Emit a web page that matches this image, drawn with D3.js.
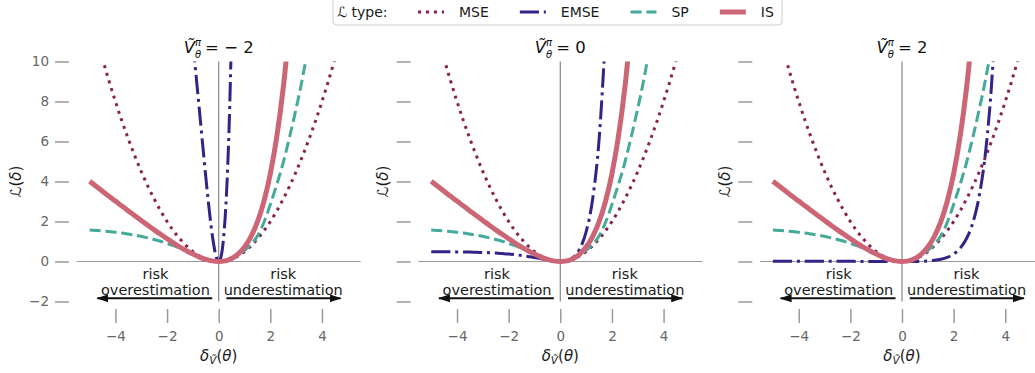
<!DOCTYPE html>
<html>
<head>
<meta charset="utf-8">
<script src="https://cdn.jsdelivr.net/npm/d3@7"></script>
<style>
  body { margin: 0; background: #fff; }
  svg { display: block; font-family: "DejaVu Sans", sans-serif; }
</style>
</head>
<body>
<div id="chart"></div>
<script>
// values
const delta = [-5, -4.75, -4.5, -4.25, -4, -3.75, -3.5, -3.25, -3, -2.75, -2.5, -2.25, -2, -1.75, -1.5, -1.25, -1, -0.75, -0.5, -0.25,
  0, 0.25, 0.5, 0.75, 1, 1.25, 1.5, 1.75, 2, 2.25, 2.5, 2.75, 3, 3.25, 3.5, 3.75, 4, 4.25, 4.5, 4.75, 5];

const mseLoss = [12.5, 11.28, 10.13, 9.03, 8, 7.03, 6.13, 5.28, 4.5, 3.78, 3.13, 2.53, 2, 1.53, 1.13, 0.78, 0.5, 0.28, 0.13, 0.03,
  0, 0.03, 0.13, 0.28, 0.5, 0.78, 1.13, 1.53, 2, 2.53, 3.13, 3.78, 4.5, 5.28, 6.13, 7.03, 8, 9.03, 10.13, 11.28, 12.5];

const spLoss = [1.57, 1.55, 1.53, 1.5, 1.46, 1.42, 1.37, 1.32, 1.26, 1.18, 1.1, 1.01, 0.9, 0.79, 0.66, 0.52, 0.37, 0.21, 0.1, 0.026,
  0, 0.035, 0.14, 0.31, 0.56, 0.86, 1.27, 1.95, 2.85, 3.85, 4.95, 6.25, 7.65, 9.2, 11.0, null, null, null, null, null, null];

const isLoss = [4.01, 3.76, 3.51, 3.26, 3.02, 2.77, 2.53, 2.29, 2.05, 1.81, 1.58, 1.36, 1.14, 0.92, 0.72, 0.54, 0.37, 0.22, 0.11, 0.03,
  0, 0.03, 0.15, 0.37, 0.72, 1.24, 1.98, 3.0, 4.39, 6.24, 8.68, 11.89, null, null, null, null, null, null, null, null, null];

// EMSE depends on the panel value, the steep one needs its own finer grid
const emseDeltaNeg = [-1.0, -0.9, -0.8, -0.7, -0.6, -0.5, -0.4, -0.3, -0.2, -0.1, 0, 0.1, 0.2, 0.3, 0.4, 0.5];
const emseLossNeg = [10.91, 9.61, 8.28, 6.92, 5.56, 4.23, 2.97, 1.83, 0.9, 0.25, 0, 0.3, 1.34, 3.34, 6.6, 11.49];

const emseLossZero = [0.49, 0.49, 0.49, 0.49, 0.48, 0.48, 0.47, 0.46, 0.45, 0.44, 0.42, 0.4, 0.37, 0.34, 0.3, 0.25, 0.2, 0.14, 0.08, 0.02,
  0, 0.04, 0.21, 0.62, 1.48, 3.1, 6.06, 11.3, null, null, null, null, null, null, null, null, null, null, null, null, null];

const emseLossPos = [0.009, 0.009, 0.009, 0.009, 0.009, 0.009, 0.009, 0.008, 0.008, 0.008, 0.008, 0.007, 0.007, 0.006, 0.006, 0.005, 0.004, 0.003, 0.001, 0,
  0, 0.001, 0.004, 0.011, 0.027, 0.057, 0.111, 0.207, 0.374, 0.66, 1.15, 1.96, 3.34, 5.63, 9.45, 15.79, null, null, null, null, null];

const panelValues = ['−2', '0', '2'];
const seriesNames = ['MSE', 'EMSE', 'SP', 'IS'];
const xTicks = [-4, -2, 0, 2, 4];
const yTicks = [-2, 0, 2, 4, 6, 8, 10];

const panelSeries = [
  {MSE: [delta, mseLoss], EMSE: [emseDeltaNeg, emseLossNeg], SP: [delta, spLoss], IS: [delta, isLoss]},
  {MSE: [delta, mseLoss], EMSE: [delta, emseLossZero], SP: [delta, spLoss], IS: [delta, isLoss]},
  {MSE: [delta, mseLoss], EMSE: [delta, emseLossPos], SP: [delta, spLoss], IS: [delta, isLoss]}
];

const styles = {
  MSE: {color: '#882255', width: 3, dash: '3,4.95'},
  EMSE: {color: '#332288', width: 3, dash: '19.2,4.8,3,4.8'},
  SP: {color: '#44AA99', width: 3, dash: '11.1,4.8'},
  IS: {color: '#CC6677', width: 5, dash: null}
};

const width = 1035;
const height = 373;

const svg = d3.select('#chart').append('svg')
  .attr('width', width)
  .attr('height', height);

svg.append('rect')
  .attr('width', width)
  .attr('height', height)
  .attr('fill', '#fff');

const defs = svg.append('defs');
defs.append('marker')
  .attr('id', 'arrowHead')
  .attr('viewBox', '0 0 12 8')
  .attr('refX', 11)
  .attr('refY', 4)
  .attr('markerWidth', 12)
  .attr('markerHeight', 8)
  .attr('markerUnits', 'userSpaceOnUse')
  .attr('orient', 'auto')
  .append('path')
  .attr('d', 'M0,0 L12,4 L0,8 Z')
  .attr('fill', '#111');

const plotWidth = 284;
const plotHeight = 240;
const plotTop = 61.5;
const plotLefts = [76.7, 418.3, 760];

const xScale = d3.scaleLinear().domain([-5.5, 5.5]).range([0, plotWidth]);
const yScale = d3.scaleLinear().domain([-2, 10]).range([plotHeight, 0]);

panelValues.forEach((v, i) => {
  const plotGroup = svg.append('g')
    .attr('transform', `translate(${plotLefts[i]},${plotTop})`);

  defs.append('clipPath')
    .attr('id', `clip${i}`)
    .append('rect')
    .attr('width', plotWidth)
    .attr('height', plotHeight);

  // y axis, pushed out to the left, no spine
  const yAxis = d3.axisLeft(yScale)
    .tickValues(yTicks)
    .tickSize(14)
    .tickPadding(6)
    .tickFormat(i === 0 ? d3.format('d') : '');
  const yAxisGroup = plotGroup.append('g')
    .attr('transform', 'translate(-7.7,0)')
    .call(yAxis);

  const xAxis = d3.axisBottom(xScale)
    .tickValues(xTicks)
    .tickSize(14)
    .tickPadding(8)
    .tickFormat(d3.format('d'));
  const xAxisGroup = plotGroup.append('g')
    .attr('transform', `translate(0,${plotHeight + 7.5})`)
    .call(xAxis);

  [xAxisGroup, yAxisGroup].forEach(a => {
    a.select('.domain').remove();
    a.selectAll('line').attr('stroke', '#9a9a9a').attr('stroke-width', 1.5);
    a.selectAll('text')
      .attr('fill', '#666')
      .attr('font-size', 13.5)
      .attr('font-family', '"DejaVu Sans", sans-serif');
  });

  // zero lines
  plotGroup.append('line')
    .attr('x1', 0).attr('x2', plotWidth)
    .attr('y1', yScale(0)).attr('y2', yScale(0))
    .attr('stroke', '#999').attr('stroke-width', 1.2);
  plotGroup.append('line')
    .attr('x1', xScale(0)).attr('x2', xScale(0))
    .attr('y1', yScale(10)).attr('y2', yScale(-2))
    .attr('stroke', '#888').attr('stroke-width', 1.2);

  const curves = plotGroup.append('g')
    .attr('clip-path', `url(#clip${i})`);

  seriesNames.forEach(name => {
    const [xs, ys] = panelSeries[i][name];
    const points = xs.map((d, k) => [d, ys[k]]);
    const line = d3.line()
      .defined(d => d[1] !== null)
      .x(d => xScale(d[0]))
      .y(d => yScale(d[1]))
      .curve(d3.curveMonotoneX);
    const st = styles[name];
    curves.append('path')
      .attr('d', line(points))
      .attr('fill', 'none')
      .attr('stroke', st.color)
      .attr('stroke-width', st.width)
      .attr('stroke-dasharray', st.dash);
  });

  // risk annotations
  const notes = [
    {cx: -2.45, word: 'overestimation', from: -0.25, to: -4.7},
    {cx: 2.5, word: 'underestimation', from: 0.3, to: 4.72}
  ];
  notes.forEach(n => {
    plotGroup.append('text')
      .attr('x', xScale(n.cx)).attr('y', yScale(-0.875))
      .attr('text-anchor', 'middle')
      .attr('font-size', 14.5).attr('fill', '#1a1a1a')
      .text('risk');
    plotGroup.append('text')
      .attr('x', xScale(n.cx)).attr('y', yScale(-1.675))
      .attr('text-anchor', 'middle')
      .attr('font-size', 14.5).attr('fill', '#1a1a1a')
      .text(n.word);
    plotGroup.append('line')
      .attr('x1', xScale(n.from)).attr('x2', xScale(n.to))
      .attr('y1', yScale(-1.84)).attr('y2', yScale(-1.84))
      .attr('stroke', '#111').attr('stroke-width', 2)
      .attr('marker-end', 'url(#arrowHead)');
  });

  // title  V~^pi_theta = value, scripts as their own texts stacked on each other
  const titleY = 52.7 - plotTop;
  const titleG = plotGroup.append('g');
  const base = titleG.append('text')
    .attr('y', titleY)
    .attr('font-size', 16.5).attr('font-style', 'italic').attr('fill', '#111')
    .text('Ṽ');
  const baseW = base.node().getComputedTextLength();
  const sup = titleG.append('text')
    .attr('x', baseW).attr('y', titleY - 7)
    .attr('font-size', 10).attr('font-style', 'italic').attr('fill', '#111')
    .text('π');
  const sub = titleG.append('text')
    .attr('x', baseW).attr('y', titleY + 4.8)
    .attr('font-size', 10).attr('font-style', 'italic').attr('fill', '#111')
    .text('θ');
  const scriptW = Math.max(sup.node().getComputedTextLength(), sub.node().getComputedTextLength());
  const rest = titleG.append('text')
    .attr('x', baseW + scriptW + 4).attr('y', titleY)
    .attr('font-size', 16.5).attr('fill', '#111')
    .text(v === '−2' ? '=\u00a0\u2212\u00a02' : '=\u00a0' + v);
  const titleW = baseW + scriptW + 4 + rest.node().getComputedTextLength();
  titleG.attr('transform', `translate(${xScale(0) - titleW / 2},0)`);

  // x label
  const xl = plotGroup.append('text')
    .attr('x', xScale(0)).attr('y', 361 - plotTop)
    .attr('text-anchor', 'middle')
    .attr('font-size', 15).attr('fill', '#1a1a1a');
  xl.append('tspan').attr('font-style', 'italic').text('δ');
  xl.append('tspan').attr('font-style', 'italic').attr('font-size', 10.5).attr('dy', 3).text('Ṽ');
  xl.append('tspan').attr('dy', -3).text('(');
  xl.append('tspan').attr('font-style', 'italic').text('θ');
  xl.append('tspan').text(')');

  // y label
  const yl = plotGroup.append('text')
    .attr('transform', `translate(${i === 0 ? -56 : -30},${plotHeight / 2}) rotate(-90)`)
    .attr('text-anchor', 'middle')
    .attr('font-size', 15).attr('fill', '#1a1a1a');
  yl.append('tspan').text('ℒ(');
  yl.append('tspan').attr('font-style', 'italic').text('δ');
  yl.append('tspan').text(')');
});

// legend
const legend = svg.append('g');
legend.append('rect')
  .attr('x', 333).attr('y', -4)
  .attr('width', 449).attr('height', 29)
  .attr('rx', 4)
  .attr('fill', '#fff')
  .attr('stroke', '#cfcfcf');

const legendY = 17;
let lx = 337;
const head = legend.append('text')
  .attr('x', lx).attr('y', legendY)
  .attr('font-size', 14).attr('fill', '#1a1a1a');
head.append('tspan').attr('font-style', 'italic').text('ℒ');
head.append('tspan').text(' type:');
lx = 418;

seriesNames.forEach(name => {
  const st = styles[name];
  legend.append('line')
    .attr('x1', lx).attr('x2', lx + 26)
    .attr('y1', legendY - 5).attr('y2', legendY - 5)
    .attr('stroke', st.color)
    .attr('stroke-width', st.width)
    .attr('stroke-dasharray', st.dash);
  const t = legend.append('text')
    .attr('x', lx + 41).attr('y', legendY)
    .attr('font-size', 14).attr('fill', '#1a1a1a')
    .text(name);
  lx += 41 + t.node().getComputedTextLength() + 31;
});
</script>
</body>
</html>
